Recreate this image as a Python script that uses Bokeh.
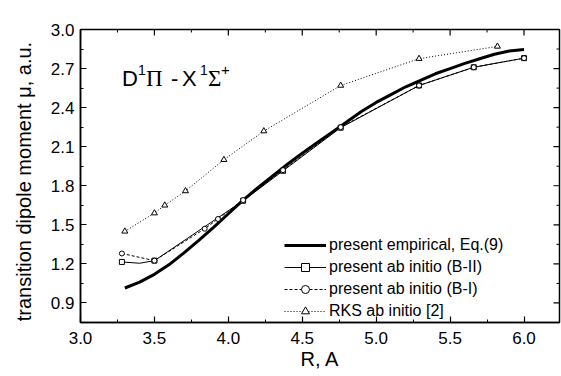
import math
from bokeh.plotting import figure
from bokeh.models import FixedTicker, Legend, LegendItem, Label, PrintfTickFormatter
from bokeh.embed import file_html
from bokeh.resources import INLINE

# ---- data ----
emp_R = [3.3, 3.4, 3.5, 3.6, 3.7, 3.8, 3.9, 4.0, 4.1, 4.2, 4.3, 4.4, 4.5, 4.6, 4.7,
         4.8, 4.9, 5.0, 5.1, 5.2, 5.3, 5.4, 5.5, 5.6, 5.7, 5.8, 5.9, 6.0]
emp_mu = [1.015, 1.06, 1.12, 1.195, 1.285, 1.38, 1.48, 1.585, 1.69, 1.785, 1.875, 1.965,
          2.05, 2.13, 2.21, 2.29, 2.37, 2.44, 2.50, 2.56, 2.61, 2.66, 2.70, 2.74, 2.775,
          2.81, 2.835, 2.846]

b2_R = [3.28, 3.4, 3.5, 4.10, 4.37, 4.76, 5.29, 5.66, 6.0]
b2_mu = [1.215, 1.205, 1.225, 1.685, 1.915, 2.246, 2.57, 2.71, 2.78]
b2_marker = [True, False, True, True, True, True, True, True, True]

b1_R = [3.28, 3.5, 3.84, 3.93, 4.10, 4.37, 4.76, 5.29, 5.66, 6.0]
b1_mu = [1.28, 1.225, 1.47, 1.545, 1.69, 1.92, 2.25, 2.57, 2.71, 2.78]

rks_R = [3.30, 3.5, 3.57, 3.71, 3.97, 4.24, 4.76, 5.29, 5.82]
rks_mu = [1.45, 1.59, 1.65, 1.76, 2.0, 2.22, 2.57, 2.776, 2.87]

x_ticks = [3.0, 3.5, 4.0, 4.5, 5.0, 5.5, 6.0]
x_minor = [3.25, 3.75, 4.25, 4.75, 5.25, 5.75]
y_ticks = [0.9, 1.2, 1.5, 1.8, 2.1, 2.4, 2.7, 3.0]
y_minor = [1.05, 1.35, 1.65, 1.95, 2.25, 2.55, 2.85]

labels = ["present empirical, Eq.(9)", "present ab initio (B-II)",
          "present ab initio (B-I)", "RKS ab initio [2]"]

X0, X1 = 3.0, 6.24
Y0, Y1 = 0.75, 3.0
FONT = "Liberation Sans"

p = figure(width=561, height=376, x_range=(X0, X1), y_range=(Y0, Y1),
           output_backend="svg", toolbar_location=None,
           min_border_left=80, min_border_right=2, min_border_top=29, min_border_bottom=54)
p.grid.visible = False
p.outline_line_color = "black"
p.outline_line_width = 1.5
p.background_fill_color = "white"
p.border_fill_color = "white"

def style(ax, ticks, minor):
    ax.ticker = FixedTicker(ticks=ticks, minor_ticks=minor)
    ax.formatter = PrintfTickFormatter(format="%.1f")
    ax.axis_line_color = "black"
    ax.axis_line_width = 1.5
    ax.major_tick_in = 6
    ax.major_tick_out = 0
    ax.minor_tick_in = 3
    ax.minor_tick_out = 0
    ax.major_tick_line_width = 1.2
    ax.major_label_text_font = FONT
    ax.major_label_text_color = "black"
    ax.major_label_text_font_size = "17px"
    ax.major_label_standoff = 6
    ax.axis_label_text_font = FONT
    ax.axis_label_text_font_style = "normal"
    ax.axis_label_text_font_size = "20px"
    ax.axis_label_text_color = "black"

xa = p.xaxis[0]
ya = p.yaxis[0]
style(xa, x_ticks, x_minor)
style(ya, y_ticks, y_minor)
xa.major_label_standoff = 9
xa.axis_label = "R, A"
ya.axis_label = "transition dipole moment  \u03bc,  a.u."
xa.axis_label_standoff = 1
ya.axis_label_standoff = 13

# mirrored inward ticks on top and right frame edges
p.ray(x=x_ticks, y=[Y1] * len(x_ticks), length=6, length_units="screen",
      angle=-math.pi / 2, line_color="black", line_width=1.2)
p.ray(x=x_minor, y=[Y1] * len(x_minor), length=3, length_units="screen",
      angle=-math.pi / 2, line_color="black", line_width=1)
p.ray(x=[X1] * len(y_ticks), y=y_ticks, length=6, length_units="screen",
      angle=math.pi, line_color="black", line_width=1.2)
p.ray(x=[X1] * len(y_minor), y=y_minor, length=3, length_units="screen",
      angle=math.pi, line_color="black", line_width=1)

# empirical
r_emp = p.line(emp_R, emp_mu, line_color="black", line_width=3)

# B-II
r_b2l = p.line(b2_R, b2_mu, line_color="black", line_width=1)
r_b2m = p.scatter([r for r, m in zip(b2_R, b2_marker) if m],
                  [v for v, m in zip(b2_mu, b2_marker) if m],
                  marker="square", size=5, line_color="black", fill_color="white", line_width=1)

# B-I
r_b1l = p.line(b1_R, b1_mu, line_color="black", line_width=1, line_dash="3 2")
r_b1m = p.scatter(b1_R, b1_mu, marker="circle", size=5, line_color="black",
                  fill_color="white", line_width=1)

# RKS
r_rl = p.line(rks_R, rks_mu, line_color="black", line_width=1, line_dash="1 2")
r_rm = p.scatter(rks_R, rks_mu, marker="triangle", size=6, line_color="black",
                 fill_color="white", line_width=1)

legend = Legend(items=[
    LegendItem(label=labels[0], renderers=[r_emp]),
    LegendItem(label=labels[1], renderers=[r_b2l, r_b2m]),
    LegendItem(label=labels[2], renderers=[r_b1l, r_b1m]),
    LegendItem(label=labels[3], renderers=[r_rl, r_rm]),
], location=(204, 1))
legend.border_line_color = None
legend.background_fill_alpha = 0
legend.padding = 0
legend.margin = 0
legend.spacing = 2
legend.glyph_width = 42
legend.glyph_height = 20
legend.label_height = 20
legend.label_standoff = 3
legend.label_text_font = FONT
legend.label_text_font_size = "16px"
legend.label_text_color = "black"
p.add_layout(legend)

# title text D1Pi - X1Sigma+
tx, ty = 3.28, 2.623
pieces = [
    ("D", 0, 0, "22px", FONT),
    ("1", 16, 9, "14px", FONT),
    ("\u03a0", 24, 0, "23px", "Liberation Serif"),
    ("-", 49, 0, "22px", FONT),
    ("X", 60, 0, "22px", FONT),
    ("1", 78, 9, "14px", FONT),
    ("\u03a3", 86, 0, "23px", "Liberation Serif"),
    ("+", 99, 9, "15px", FONT),
]
for t, dx, dy, fs, fnt in pieces:
    p.add_layout(Label(x=tx, y=ty, x_offset=dx, y_offset=dy, text=t,
                       text_font=fnt, text_font_size=fs, text_color="black",
                       text_baseline="alphabetic", text_align="left"))

open("out.html", "w").write(file_html(p, INLINE))
